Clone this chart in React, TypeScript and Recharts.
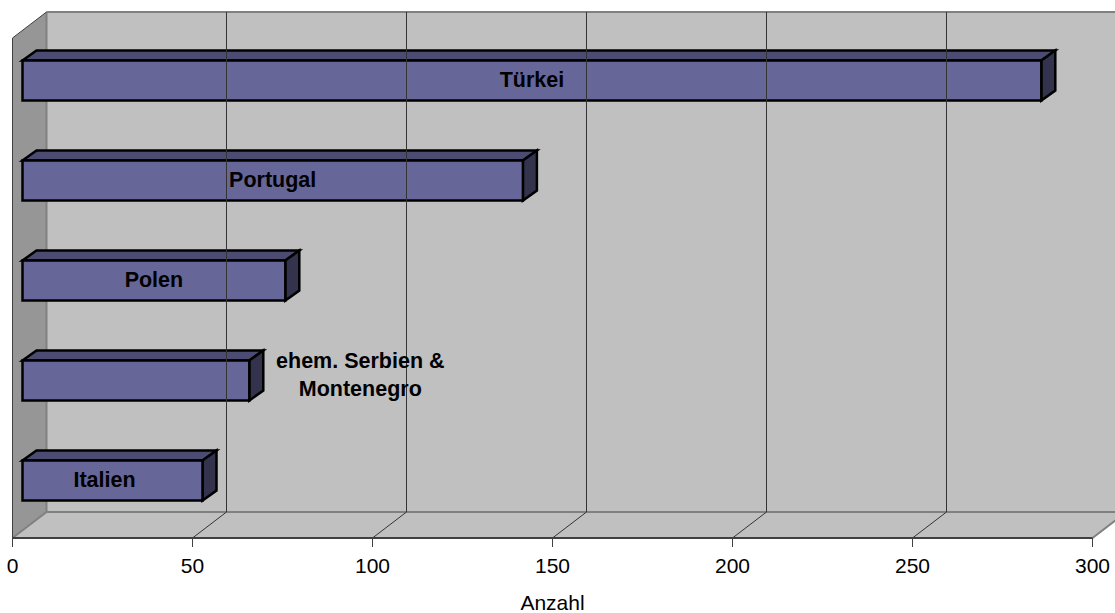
import React from 'react';
import { BarChart, Bar, XAxis, YAxis, ReferenceArea, ReferenceLine, LabelList, Label } from 'recharts';

const categories = ['Türkei', 'Portugal', 'Polen', 'ehem. Serbien & Montenegro', 'Italien'];
const counts = [283, 139, 73, 63, 50];
const xTicks = [0, 50, 100, 150, 200, 250, 300];
const xTitle = 'Anzahl';
const rows = categories.map((name, i) => ({ name, count: counts[i] }));

const FONT = '"Liberation Sans", Arial, sans-serif';
const TEXT_SIZE = 21;
const BOLD_SIZE = 21.5;
const WALL_DX = 34, WALL_DY = -26;
const BAR_DX = 10, BAR_DY = -7.5;
const TOP_DX = 14, TOP_DY = -10;

function Walls({ x, y, width, height }: any) {
  const b = y + height, r = x + width;
  const bx = x + WALL_DX, by = b + WALL_DY, ty = y + WALL_DY;
  return (
    <g>
      <polygon points={`${bx},${ty} ${r + 60},${ty} ${r + 60},${by} ${bx},${by}`} fill="#c0c0c0" />
      <polygon points={`${x},${b} ${r},${b} ${r + WALL_DX},${by} ${bx},${by}`} fill="#c0c0c0" />
      <polygon points={`${x},${y} ${bx},${ty} ${bx},${by} ${x},${b}`} fill="#969696" />
      <line x1={bx} y1={ty} x2={r + 60} y2={ty} stroke="#808080" strokeWidth={2} />
      <line x1={bx} y1={by} x2={r + 60} y2={by} stroke="#808080" strokeWidth={2} />
      <line x1={bx} y1={ty} x2={bx} y2={by} stroke="#808080" strokeWidth={2} />
      <line x1={x} y1={b} x2={bx} y2={by} stroke="#808080" strokeWidth={2} />
      <line x1={r} y1={b} x2={r + WALL_DX} y2={by} stroke="#808080" strokeWidth={2} />
      <line x1={x} y1={y} x2={bx} y2={ty} stroke="#404040" strokeWidth={1} />
      <line x1={x} y1={y} x2={x} y2={b} stroke="#404040" strokeWidth={1} />
    </g>
  );
}

function GridLine({ x1, y1, y2 }: any) {
  const top = Math.min(y1, y2), bottom = Math.max(y1, y2);
  const bx = x1 + WALL_DX;
  return (
    <g stroke="#333333" strokeWidth={1} fill="none">
      <line x1={x1} y1={bottom} x2={bx} y2={bottom + WALL_DY} />
      <line x1={bx} y1={top + WALL_DY} x2={bx} y2={bottom + WALL_DY} />
    </g>
  );
}

function Box({ x, y, width, height }: any) {
  const l = x + BAR_DX, t = y + BAR_DY, r = l + width, b = t + height;
  const line = { stroke: '#000', strokeWidth: 2.5, strokeLinejoin: 'miter' as const };
  return (
    <g>
      <polygon points={`${l},${t} ${l + TOP_DX},${t + TOP_DY} ${r + TOP_DX},${t + TOP_DY} ${r},${t}`} fill="#4c4c73" {...line} />
      <polygon points={`${r},${t} ${r + TOP_DX},${t + TOP_DY} ${r + TOP_DX},${b + TOP_DY} ${r},${b}`} fill="#33334d" {...line} />
      <rect x={l} y={t} width={width} height={height} fill="#666699" {...line} />
    </g>
  );
}

function BarText({ x, y, width, height, value, index }: any) {
  const l = x + BAR_DX, t = y + BAR_DY;
  const base = { fontFamily: FONT, fontSize: BOLD_SIZE, fontWeight: 700, fill: '#000', textAnchor: 'middle' as const };
  if (index === 3) {
    const cx = l + width + 111;
    return (
      <text {...base}>
        <tspan x={cx} y={t + 7}>ehem. Serbien &amp;</tspan>
        <tspan x={cx} y={t + 35}>Montenegro</tspan>
      </text>
    );
  }
  const shift = index === 4 ? -8 : 0;
  return <text {...base} x={l + width / 2 + shift} y={t + height / 2 + 6}>{value}</text>;
}

export default function App() {
  return (
    <div style={{ position: 'absolute', left: 0, top: 0 }}>
      <BarChart
        width={1115}
        height={613}
        data={rows}
        layout="vertical"
        margin={{ top: 38, right: 22.5, bottom: 0, left: 12.5 }}
      >
        <XAxis
          type="number"
          dataKey="count"
          domain={[0, 300]}
          ticks={xTicks}
          interval={0}
          height={75}
          tickSize={9}
          tickMargin={11}
          allowDataOverflow
          axisLine={{ stroke: '#404040', strokeWidth: 2 }}
          tickLine={{ stroke: '#404040', strokeWidth: 1 }}
          tick={{ fontFamily: FONT, fontSize: TEXT_SIZE, fill: '#000' }}
        >
          <Label value={xTitle} position="insideBottom" offset={3} style={{ fontFamily: FONT, fontSize: TEXT_SIZE, fill: '#000' }} />
        </XAxis>
        <YAxis type="category" dataKey="name" hide />
        <ReferenceArea x1={0} x2={300} ifOverflow="visible" shape={<Walls />} />
        {xTicks.slice(1, -1).map((v) => (
          <ReferenceLine key={v} x={v} ifOverflow="visible" shape={<GridLine />} />
        ))}
        <Bar dataKey="count" barSize={40} isAnimationActive={false} shape={<Box />}>
          <LabelList dataKey="name" content={<BarText />} />
        </Bar>
      </BarChart>
    </div>
  );
}
